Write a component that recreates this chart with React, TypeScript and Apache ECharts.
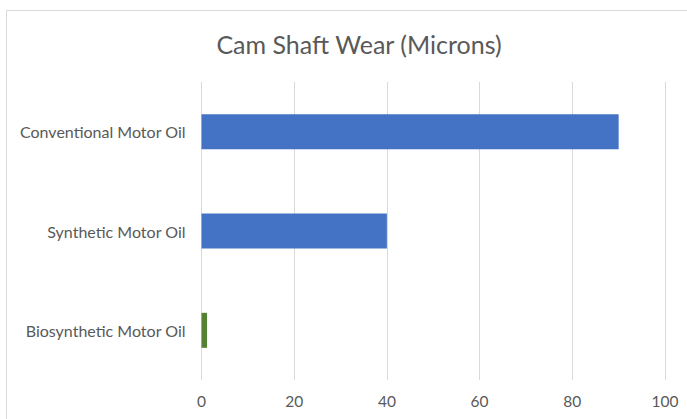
import React, { useEffect, useRef } from "react";
import * as echarts from "echarts";

const categories = ["Conventional Motor Oil", "Synthetic Motor Oil", "Biosynthetic Motor Oil"];
const values = [90, 40, 1.2];
const barColors = ["#4472C4", "#4472C4", "#548235"];
const xTicks = [0, 20, 40, 60, 80, 100];
const titleText = "Cam Shaft Wear (Microns)";

export default function App() {
  const ref = useRef<HTMLDivElement>(null);
  useEffect(() => {
    document.body.style.margin = "0";
    const chart = echarts.init(ref.current!, null, { renderer: "svg" });
    chart.setOption({
      animation: false,
      backgroundColor: "#ffffff",
      textStyle: { fontFamily: "Lato, 'Open Sans', sans-serif" },
      title: {
        text: titleText,
        left: 354,
        textAlign: "center",
        top: 26,
        textStyle: { fontSize: 25, fontWeight: "normal", color: "#595959", fontFamily: "Lato, 'Open Sans', sans-serif" },
      },
      graphic: [
        {
          type: "rect",
          shape: { x: 6.5, y: 10.5, width: 720, height: 500 },
          style: { fill: "none", stroke: "#d9d9d9", lineWidth: 1 },
          silent: true,
          z: -1,
        },
      ],
      grid: { left: 201.5, right: 22, top: 82, bottom: 39, containLabel: false },
      xAxis: {
        type: "value",
        min: xTicks[0],
        max: xTicks[xTicks.length - 1],
        interval: 20,
        axisLine: { show: false },
        axisTick: { show: false },
        splitLine: { show: true, lineStyle: { color: "#d9d9d9", width: 1 } },
        axisLabel: { color: "#595959", fontSize: 15.5, margin: 13 },
      },
      yAxis: {
        type: "category",
        data: categories,
        inverse: true,
        axisLine: { show: false },
        axisTick: { show: false },
        axisLabel: { color: "#595959", fontSize: 16, margin: 16 },
      },
      series: [
        {
          type: "bar",
          data: values.map((v, i) => ({ value: v, itemStyle: { color: barColors[i] } })),
          barWidth: 35,
        },
      ],
    });
    return () => chart.dispose();
  }, []);
  return <div ref={ref} style={{ width: 687, height: 419 }} />;
}
